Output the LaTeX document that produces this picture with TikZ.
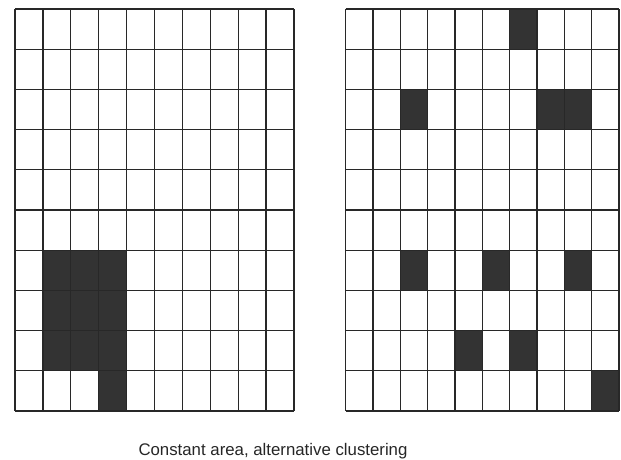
\documentclass[tikz,border=0pt]{standalone}
\usepackage{fontspec}
\setmainfont{Liberation Sans}
\usetikzlibrary{positioning}
\definecolor{cellDark}{RGB}{51,51,51}
\definecolor{lineGray}{RGB}{40,40,40}
\tikzset{
  gridln/.style={line width=1.3pt, lineGray},
  cellfill/.style={fill=cellDark},
  captxt/.style={font=\fontsize{16.8}{20}\selectfont, text=black!85, inner sep=0pt},
}
% #1 = left, #2 = cell width, #3 = cell height (top is 9)
\newcommand{\cellgrid}[3]{%
  \foreach \i in {0,...,10} {
    \draw[gridln] ({#1+#2*\i},9) -- ({#1+#2*\i},{9+10*#3});
    \draw[gridln] (#1,{9+#3*\i}) -- ({#1+10*#2},{9+#3*\i});
  }
}

\begin{document}
\begin{tikzpicture}[x=1pt,y=-1pt]
    \useasboundingbox (0,0) rectangle (621,459);
    % left grid: one block
    \foreach \c/\r in {1/6,2/6,3/6,1/7,2/7,3/7,1/8,2/8,3/8,3/9} {
      \fill[cellfill] ({15+27.9*\c},{9+40.2*\r}) rectangle ++(27.9,40.2);
    }
    \cellgrid{15}{27.9}{40.2}
    % right grid: scattered cells
    \foreach \c/\r in {6/0,2/2,7/2,8/2,2/6,5/6,8/6,4/8,6/8,9/9} {
      \fill[cellfill] ({345.7+27.33*\c},{9+40.2*\r}) rectangle ++(27.33,40.2);
    }
    \cellgrid{345.7}{27.33}{40.2}
    % caption
    \node[captxt, anchor=base] (caption) at (273,455) {Constant area, alternative clustering};
  \end{tikzpicture}
\end{document}
